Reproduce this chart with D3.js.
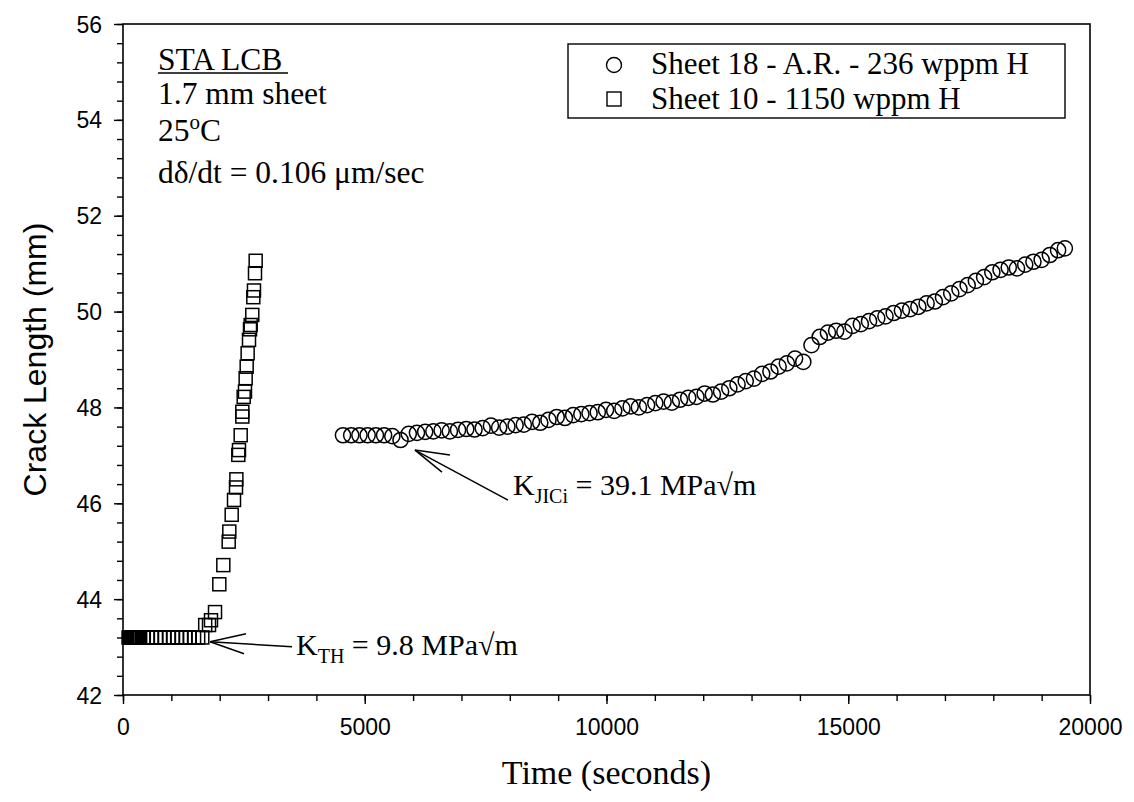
<!DOCTYPE html>
<html>
<head>
<meta charset="utf-8">
<script src="https://cdn.jsdelivr.net/npm/d3@7"></script>
<style>
  html, body { margin: 0; padding: 0; background: #fff; }
  svg { display: block; }
  .serif { font-family: "Liberation Serif", "Times New Roman", serif; }
  .sans { font-family: "Liberation Sans", Arial, sans-serif; }
</style>
</head>
<body>
<svg id="chart" width="1134" height="802"></svg>
<script>
// Sheet 10 - 1150 wppm H (squares): time in seconds, crack length in mm
const sheet10Time = [115, 130, 145, 160, 175, 190, 205, 220, 235, 250, 265, 280, 295, 310, 325, 340, 355,
  430, 515, 600, 690, 775, 860, 950, 1035, 1120, 1210, 1295, 1380, 1470, 1555, 1640,
  1700, 1779, 1820, 1903, 1992, 2075, 2186, 2199, 2248, 2296, 2337, 2345, 2385, 2399,
  2434, 2468, 2468, 2496, 2523, 2537, 2558, 2578, 2606, 2627, 2641, 2674, 2695, 2709, 2730, 2744];
const sheet10Length = [43.2, 43.2, 43.2, 43.2, 43.2, 43.2, 43.2, 43.2, 43.2, 43.2, 43.2, 43.2, 43.2, 43.2, 43.2, 43.2, 43.2,
  43.2, 43.2, 43.2, 43.2, 43.2, 43.2, 43.2, 43.2, 43.2, 43.2, 43.2, 43.2, 43.2, 43.2, 43.2,
  43.46, 43.46, 43.56, 43.73, 44.31, 44.71, 45.20, 45.41, 45.76, 46.07, 46.33, 46.50, 47.01, 47.11,
  47.42, 47.81, 47.91, 48.22, 48.33, 48.61, 48.85, 49.13, 49.41, 49.63, 49.72, 49.93, 50.30, 50.44, 50.80, 51.06];

// Sheet 18 - A.R. - 236 wppm H (circles)
const sheet18Time = [4550, 4720, 4890, 5060, 5230, 5400, 5570, 5740, 5910, 6080,
  6250, 6420, 6590, 6760, 6930, 7100, 7270, 7440, 7610, 7780,
  7950, 8120, 8290, 8460, 8630, 8800, 8970, 9140, 9310, 9480,
  9650, 9820, 9990, 10160, 10330, 10500, 10670, 10840, 11010, 11180,
  11350, 11520, 11690, 11860, 12030, 12200, 12370, 12540, 12710, 12880,
  13050, 13220, 13390, 13560, 13730, 13900, 14070, 14240, 14410, 14580,
  14750, 14920, 15090, 15260, 15430, 15600, 15770, 15940, 16110, 16280,
  16450, 16620, 16790, 16960, 17130, 17300, 17470, 17640, 17810, 17980,
  18150, 18320, 18490, 18660, 18830, 19000, 19170, 19340, 19480];
const sheet18Length = [47.42, 47.42, 47.42, 47.42, 47.42, 47.42, 47.40, 47.32, 47.45, 47.47,
  47.49, 47.50, 47.52, 47.50, 47.53, 47.55, 47.54, 47.57, 47.62, 47.58,
  47.60, 47.63, 47.64, 47.70, 47.68, 47.74, 47.80, 47.78, 47.84, 47.86,
  47.88, 47.90, 47.95, 47.93, 47.98, 48.02, 48.00, 48.05, 48.09, 48.12,
  48.10, 48.16, 48.20, 48.22, 48.29, 48.27, 48.33, 48.40, 48.48, 48.55,
  48.60, 48.70, 48.75, 48.85, 48.92, 49.02, 48.95, 49.30, 49.47, 49.56,
  49.60, 49.58, 49.70, 49.74, 49.80, 49.86, 49.90, 49.97, 50.02, 50.05,
  50.10, 50.17, 50.21, 50.30, 50.38, 50.47, 50.55, 50.64, 50.72, 50.82,
  50.87, 50.92, 50.90, 50.98, 51.04, 51.08, 51.18, 51.28, 51.32];

const xMajorTicks = [0, 5000, 10000, 15000, 20000];
const yMajorTicks = [42, 44, 46, 48, 50, 52, 54, 56];

const legendLabels = ["Sheet 18 - A.R. - 236 wppm H", "Sheet 10 - 1150 wppm H"];

// annotation anchors (time, length) for the two threshold arrows
const kthPoint = [1800, 43.11];
const kjicPoint = [6039, 47.11];

const svg = d3.select("#chart");
const plot = { left: 123, right: 1090, top: 24, bottom: 695 };

const x = d3.scaleLinear().domain([0, 20000]).range([plot.left, plot.right]);
const y = d3.scaleLinear().domain([42, 56]).range([plot.bottom, plot.top]);

// frame
svg.append("rect")
  .attr("x", plot.left).attr("y", plot.top)
  .attr("width", plot.right - plot.left).attr("height", plot.bottom - plot.top)
  .attr("fill", "none").attr("stroke", "#000").attr("stroke-width", 1.6);

// x axis: major + minor ticks pointing outward
const xAxis = d3.axisBottom(x).tickValues(xMajorTicks).tickSize(9).tickPadding(10)
  .tickFormat(d3.format("d"));
const xMinor = d3.axisBottom(x).tickValues(d3.range(0, 20001, 1000)).tickSize(6).tickFormat("");
const gxm = svg.append("g").attr("transform", `translate(0,${plot.bottom})`).call(xMinor);
const gx = svg.append("g").attr("transform", `translate(0,${plot.bottom})`).call(xAxis);

const yAxis = d3.axisLeft(y).tickValues(yMajorTicks).tickSize(9).tickPadding(12)
  .tickFormat(d3.format("d"));
const yMinor = d3.axisLeft(y).tickValues(d3.range(0, 36).map(i => 42 + i * 0.4)).tickSize(6).tickFormat("");
const gym = svg.append("g").attr("transform", `translate(${plot.left},0)`).call(yMinor);
const gy = svg.append("g").attr("transform", `translate(${plot.left},0)`).call(yAxis);

[gx, gxm, gy, gym].forEach(g => {
  g.select(".domain").remove();
  g.selectAll(".tick line").attr("stroke", "#000").attr("stroke-width", 1.4);
  g.selectAll(".tick text")
    .attr("fill", "#000")
    .attr("class", "sans")
    .style("font-size", "23px");
});
gx.selectAll(".tick text").attr("dy", "0.9em");
gy.selectAll(".tick text").attr("dy", "0.35em");

// axis titles
svg.append("text").attr("class", "serif")
  .attr("x", (plot.left + plot.right) / 2).attr("y", 784)
  .attr("text-anchor", "middle").style("font-size", "34px")
  .text("Time (seconds)");
svg.append("text").attr("class", "sans")
  .attr("transform", `translate(46,${(plot.top + plot.bottom) / 2}) rotate(-90)`)
  .attr("text-anchor", "middle").style("font-size", "32px")
  .text("Crack Length (mm)");

// data marks
const squareSide = 13;
const sq = sheet10Time.map((t, i) => ({ t, v: sheet10Length[i] }));
svg.append("g").selectAll("rect").data(sq).join("rect")
  .attr("x", d => x(d.t) - squareSide / 2)
  .attr("y", d => y(d.v) - squareSide / 2)
  .attr("width", squareSide).attr("height", squareSide)
  .attr("fill", "none").attr("stroke", "#000").attr("stroke-width", 1.5);

const ci = sheet18Time.map((t, i) => ({ t, v: sheet18Length[i] }));
svg.append("g").selectAll("circle").data(ci).join("circle")
  .attr("cx", d => x(d.t)).attr("cy", d => y(d.v)).attr("r", 7.6)
  .attr("fill", "none").attr("stroke", "#000").attr("stroke-width", 1.5);

// specimen notes
const notes = svg.append("g").attr("class", "serif").style("font-size", "31.5px");
notes.append("text").attr("x", 158).attr("y", 70).text("STA LCB");
notes.append("line").attr("x1", 158).attr("x2", 288).attr("y1", 73).attr("y2", 73)
  .attr("stroke", "#000").attr("stroke-width", 1.6);
notes.append("text").attr("x", 158).attr("y", 104).text("1.7 mm sheet");
const tC = notes.append("text").attr("x", 158).attr("y", 141);
tC.append("tspan").text("25");
tC.append("tspan").attr("dy", -12).style("font-size", "21px").text("o");
tC.append("tspan").attr("dy", 12).text("C");
notes.append("text").attr("x", 158).attr("y", 183).text("dδ/dt = 0.106 μm/sec");

// legend
const lg = svg.append("g").attr("class", "serif");
lg.append("rect").attr("x", 568).attr("y", 44).attr("width", 497).attr("height", 74)
  .attr("fill", "#fff").attr("stroke", "#000").attr("stroke-width", 1.4);
lg.append("circle").attr("cx", 614).attr("cy", 65).attr("r", 7.5)
  .attr("fill", "none").attr("stroke", "#000").attr("stroke-width", 1.4);
lg.append("rect").attr("x", 607).attr("y", 92).attr("width", 14).attr("height", 14)
  .attr("fill", "none").attr("stroke", "#000").attr("stroke-width", 1.4);
lg.selectAll("text.lab").data(legendLabels).join("text").attr("class", "lab")
  .attr("x", 651).attr("y", (d, i) => 74 + i * 35)
  .style("font-size", "31px").text(d => d);

// threshold annotations
function arrow(tip, tail, head1, head2) {
  const g = svg.append("g").attr("stroke", "#000").attr("stroke-width", 1.5).attr("fill", "none");
  [tail, head1, head2].forEach(p => {
    g.append("line").attr("x1", tip[0]).attr("y1", tip[1])
      .attr("x2", tip[0] + p[0]).attr("y2", tip[1] + p[1]);
  });
}
const kthTip = [x(kthPoint[0]), y(kthPoint[1])];
arrow(kthTip, [82, 5], [36, -8], [34, 12]);
const kth = svg.append("text").attr("class", "serif").style("font-size", "30px")
  .attr("x", kthTip[0] + 86).attr("y", kthTip[1] + 13);
kth.append("tspan").text("K");
kth.append("tspan").attr("dy", 8).style("font-size", "20px").text("TH");
kth.append("tspan").attr("dy", -8).text(" = 9.8 MPa√m");

const kjTip = [x(kjicPoint[0]), y(kjicPoint[1])];
arrow(kjTip, [93, 50], [35, 5], [27, 22]);
const kj = svg.append("text").attr("class", "serif").style("font-size", "30px")
  .attr("x", kjTip[0] + 98).attr("y", kjTip[1] + 45);
kj.append("tspan").text("K");
kj.append("tspan").attr("dy", 8).style("font-size", "20px").text("JICi");
kj.append("tspan").attr("dy", -8).text(" = 39.1 MPa√m");
</script>
</body>
</html>
